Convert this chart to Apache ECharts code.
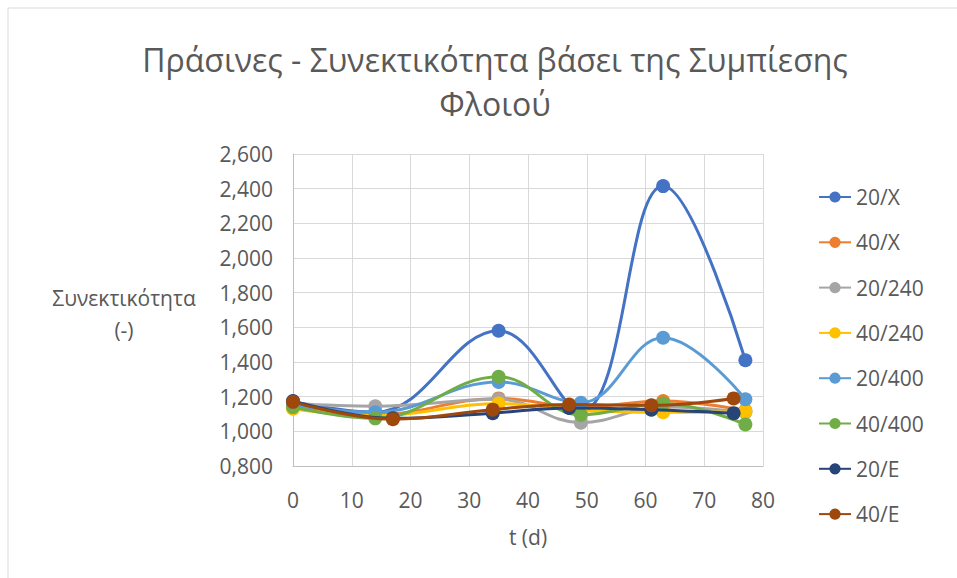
<!DOCTYPE html>
<html>
<head>
<meta charset="utf-8">
<script src="https://cdn.jsdelivr.net/npm/echarts@6/dist/echarts.min.js"></script>
<style>
html,body{margin:0;padding:0;background:#fff;}
#c{width:957px;height:578px;}
</style>
</head>
<body>
<div id="c"></div>
<script>
// Time points (days)
var t20 = [0, 14, 35, 49, 63, 77];
var tE = [0, 17, 34, 47, 61, 75];
// Series names
var names = ['20/X', '40/X', '20/240', '40/240', '20/400', '40/400', '20/E', '40/E'];
// Values (-)
var v20X   = [1.170, 1.110, 1.580, 1.115, 2.415, 1.410];
var v40X   = [1.150, 1.095, 1.190, 1.140, 1.175, 1.120];
var v20_240 = [1.160, 1.145, 1.185, 1.050, 1.140, 1.110];
var v40_240 = [1.130, 1.090, 1.160, 1.120, 1.110, 1.115];
var v20_400 = [1.150, 1.110, 1.285, 1.165, 1.540, 1.185];
var v40_400 = [1.140, 1.075, 1.315, 1.095, 1.160, 1.040];
var v20E   = [1.175, 1.075, 1.105, 1.135, 1.125, 1.105];
var v40E   = [1.170, 1.070, 1.125, 1.155, 1.150, 1.190];
// Axis ticks
var yMin = 0.8, yMax = 2.6, yStep = 0.2;
var xMin = 0, xMax = 80, xStep = 10;

var colors = ['#4472C4', '#ED7D31', '#A5A5A5', '#FFC000', '#5B9BD5', '#70AD47', '#264478', '#9E480E'];
var vals = [v20X, v40X, v20_240, v40_240, v20_400, v40_400, v20E, v40E];
var xs = [t20, t20, t20, t20, t20, t20, tE, tE];

function pairs(x, y) { return x.map(function (xi, i) { return [xi, y[i]]; }); }

var txt = '#595959';
var fam = '"Open Sans", "Noto Sans", sans-serif';

var series = names.map(function (n, i) {
  return {
    name: n, type: 'line', smooth: 0.4,
    data: pairs(xs[i], vals[i]),
    symbol: 'circle', symbolSize: 14,
    lineStyle: { width: 3, color: colors[i] },
    itemStyle: { color: colors[i] },
    z: 2 + i
  };
});

var chart = echarts.init(document.getElementById('c'), null, { renderer: 'svg' });
chart.setOption({
  animation: false,
  color: colors,
  title: {
    text: 'Πράσινες - Συνεκτικότητα βάσει της Συμπίεσης\nΦλοιού',
    left: 490, top: 32, textAlign: 'center',
    textStyle: { fontFamily: fam, fontSize: 32, fontWeight: 'normal', color: txt, lineHeight: 44 }
  },
  grid: { left: 293, top: 154, width: 470, height: 312 },
  legend: {
    orient: 'vertical', left: 813, top: 181, itemGap: 23.3,
    itemWidth: 32, itemHeight: 14,
    textStyle: { fontFamily: fam, fontSize: 21, color: txt, lineHeight: 22 },
    data: names
  },
  xAxis: {
    type: 'value', min: xMin, max: xMax, interval: xStep,
    name: 't (d)', nameLocation: 'middle', nameGap: 60,
    nameTextStyle: { fontFamily: fam, fontSize: 21, color: txt },
    axisLine: { show: true, lineStyle: { color: '#bfbfbf', width: 1 } },
    axisTick: { show: false },
    axisLabel: { fontFamily: fam, fontSize: 21, color: txt, margin: 23 },
    splitLine: { show: true, lineStyle: { color: '#d9d9d9', width: 1 } }
  },
  yAxis: {
    type: 'value', min: yMin, max: yMax, interval: yStep,
    axisLine: { show: true, lineStyle: { color: '#bfbfbf', width: 1 } },
    axisTick: { show: false },
    axisLabel: {
      fontFamily: fam, fontSize: 21, color: txt, margin: 20,
      formatter: function (v) { return v.toFixed(3).replace('.', ','); }
    },
    splitLine: { show: true, lineStyle: { color: '#d9d9d9', width: 1 } }
  },
  graphic: [
    { type: 'rect', x: 8, y: 8, shape: { width: 960, height: 580 }, style: { fill: 'none', stroke: '#d9d9d9', lineWidth: 1 }, silent: true },
    { type: 'text', x: 124, y: 282, style: { text: 'Συνεκτικότητα\n(-)', textAlign: 'center', fontFamily: fam, fontSize: 21, fill: txt, lineHeight: 32 }, silent: true }
  ],
  series: series
});
</script>
</body>
</html>
